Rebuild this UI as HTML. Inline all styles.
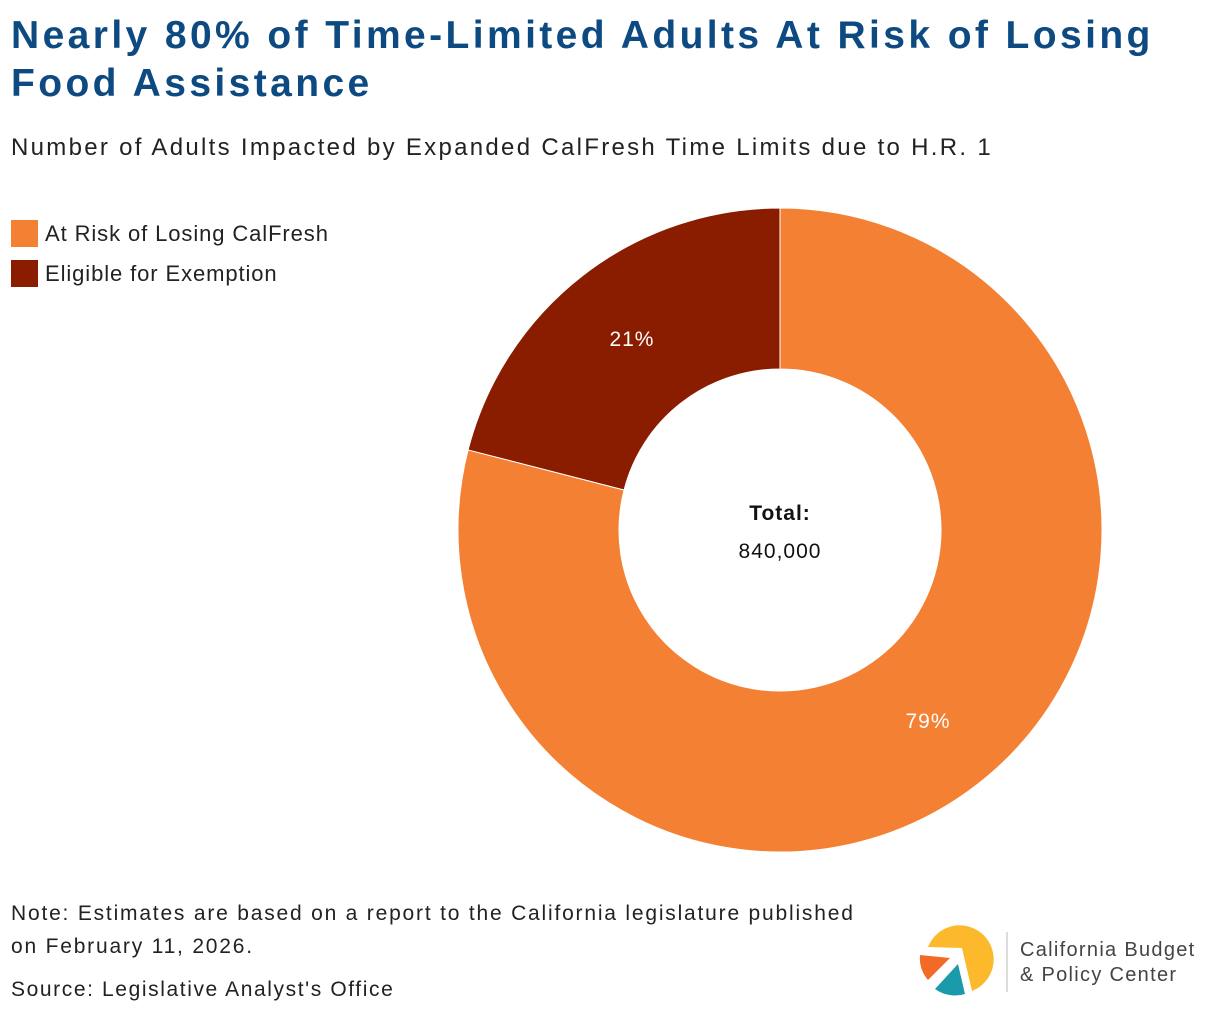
<!DOCTYPE html>
<html><head><meta charset="utf-8"><style>
body{margin:0;width:1220px;height:1016px;background:#fff;font-family:"Liberation Sans","DejaVu Sans",sans-serif;position:relative;overflow:hidden}
.t{position:absolute;left:11px;top:12px;font-size:39px;font-weight:bold;color:#0d4a82;line-height:48px;letter-spacing:3.4px;white-space:nowrap}
.s{position:absolute;left:11px;top:134px;font-size:24px;color:#222;letter-spacing:2.3px;white-space:nowrap}
.lg{position:absolute;left:11px;font-size:22px;color:#222;display:flex;align-items:center;letter-spacing:0.9px}
.lg span{display:inline-block;width:27px;height:27px;margin-right:7px}
.n{position:absolute;left:11px;font-size:21px;color:#222;line-height:33px;letter-spacing:1.8px;white-space:nowrap}
</style></head><body>
<div class="t">Nearly 80% of Time-Limited Adults At Risk of Losing<br>Food Assistance</div>
<div class="s">Number of Adults Impacted by Expanded CalFresh Time Limits due to H.R. 1</div>
<div class="lg" style="top:220px"><span style="background:#f48034"></span>At Risk of Losing CalFresh</div>
<div class="lg" style="top:260px"><span style="background:#8a1c00"></span>Eligible for Exemption</div>
<svg id="chart" width="1220" height="1016" style="position:absolute;left:0;top:0"></svg>
<div class="n" style="top:897px">Note: Estimates are based on a report to the California legislature published<br>on February 11, 2026.</div>
<div class="n" style="top:973px;letter-spacing:1.6px">Source: Legislative Analyst's Office</div>
<svg width="300" height="90" style="position:absolute;left:910px;top:915px">
<path d="M18 32 A34 34 0 1 1 62 76 L52 33 Z" fill="#fbb92b"/>
<path d="M10 40 L40 43 L18 65 A34 34 0 0 1 10 40Z" fill="#f26a25"/>
<path d="M48 49 L55 79 A34 34 0 0 1 25 74Z" fill="#1b9aac"/>
<line x1="97" y1="17" x2="97" y2="77" stroke="#bbb" stroke-width="1"/>
<text x="110" y="41" font-size="20" fill="#444" letter-spacing="1.3" font-family="Liberation Sans,sans-serif">California Budget</text>
<text x="110" y="66" font-size="20" fill="#444" letter-spacing="1.3" font-family="Liberation Sans,sans-serif">&amp; Policy Center</text>
</svg>
<script>
const categories=["At Risk of Losing CalFresh","Eligible for Exemption"];
const values=[79,21];
const labels=["79%","21%"];
const colors=["#f48034","#8a1c00"];
const svg=document.getElementById('chart');const NS="http://www.w3.org/2000/svg";
const cx=780,cy=530,R=322,r=161;
const total=values.reduce((a,b)=>a+b,0);
function pt(a,rad){return [cx+rad*Math.sin(a),cy-rad*Math.cos(a)];}
let a0=0;
values.forEach((v,i)=>{
 const a1=a0+v/total*2*Math.PI;const lg=(a1-a0)>Math.PI?1:0;
 const [x0,y0]=pt(a0,R),[x1,y1]=pt(a1,R),[x2,y2]=pt(a1,r),[x3,y3]=pt(a0,r);
 const p=document.createElementNS(NS,'path');
 p.setAttribute('d',`M${x0} ${y0}A${R} ${R} 0 ${lg} 1 ${x1} ${y1}L${x2} ${y2}A${r} ${r} 0 ${lg} 0 ${x3} ${y3}Z`);
 p.setAttribute('fill',colors[i]);p.setAttribute('stroke','#fff');p.setAttribute('stroke-width','1');
 
 
 svg.appendChild(p);
 const m=(a0+a1)/2;const [lx,ly]=pt(m,(R+r)/2);
 const t=document.createElementNS(NS,'text');
 t.setAttribute('x',lx);t.setAttribute('y',ly+7);t.setAttribute('text-anchor','middle');
 t.setAttribute('font-size','21');t.setAttribute('fill','#fff');t.setAttribute('letter-spacing','1');t.textContent=labels[i];
 
 
 svg.appendChild(t);
 a0=a1;
});
[["Total:",520,"bold"],["840,000",558,"normal"]].forEach((d,i)=>{
 const t=document.createElementNS(NS,'text');
 t.setAttribute('x',cx);t.setAttribute('y',d[1]);t.setAttribute('text-anchor','middle');
 t.setAttribute('font-size','21');t.setAttribute('font-weight',d[2]);t.setAttribute('fill','#111');t.setAttribute('letter-spacing','1');t.textContent=d[0];
 
 
 svg.appendChild(t);
});
</script>
</body></html>
